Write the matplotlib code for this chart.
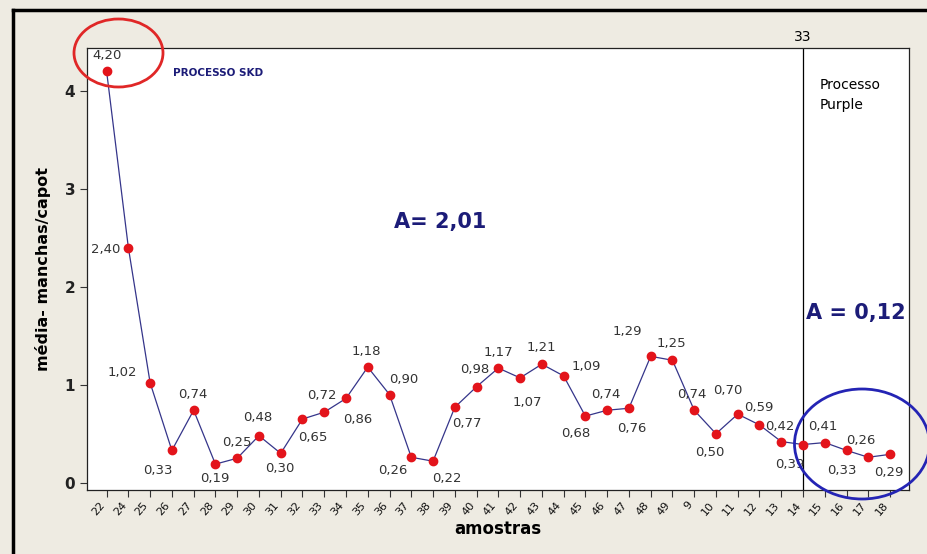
import matplotlib
matplotlib.use("Agg")
import matplotlib.pyplot as plt
from matplotlib.patches import Ellipse
from matplotlib.lines import Line2D

# sample identifiers (x axis) and mean stains per hood
amostras = ["22", "24", "25", "26", "27", "28", "29", "30", "31", "32", "33", "34",
            "35", "36", "37", "38", "39", "40", "41", "42", "43", "44", "45", "46",
            "47", "48", "49", "9", "10", "11", "12", "13", "14", "15", "16", "17", "18"]
media = [4.20, 2.40, 1.02, 0.33, 0.74, 0.19, 0.25, 0.48, 0.30, 0.65, 0.72, 0.86,
         1.18, 0.90, 0.26, 0.22, 0.77, 0.98, 1.17, 1.07, 1.21, 1.09, 0.68, 0.74,
         0.76, 1.29, 1.25, 0.74, 0.50, 0.70, 0.59, 0.42, 0.39, 0.41, 0.33, 0.26, 0.29]
ref_line = 33          # start of the Purple process
amp_skd = "A= 2,01"
amp_purple = "A = 0,12"

# label offsets in pixels (dx, dy) from each marker
label_offsets = [(0, 16), (-23, -2), (-28, 10), (-14, -20), (-1, 16), (-1, -14),
                 (0, 16), (-1, 18), (-1, -15), (10, -18), (-2, 17), (12, -21),
                 (-1, 16), (14, 15), (-18, -13), (14, -17), (12, -16), (-2, 17),
                 (0, 16), (7, -25), (0, 17), (23, 9), (-10, -17), (-1, 16),
                 (3, -20), (-23, 25), (-1, 17), (-2, 16), (-6, -19), (-10, 24),
                 (-1, 17), (-1, 15), (-13, -20), (-2, 16), (-5, -20), (-7, 17),
                 (-1, -18)]

W, H, DPI = 927, 554, 100
bg = "#eeebe2"
navy = "#1c1c78"

fig = plt.figure(figsize=(W / DPI, H / DPI), dpi=DPI, facecolor=bg)
ax = fig.add_axes([87 / W, 64 / H, (909 - 87) / W, (490 - 48) / H])
ax.set_facecolor("white")

x = list(range(1, len(media) + 1))
ax.plot(x, media, color="#35358a", lw=0.9, zorder=2)
ax.plot(x, media, ls="none", marker="o", ms=6, mfc="#e3141b", mec="#e3141b", zorder=3)

for xi, v, (dx, dy) in zip(x, media, label_offsets):
    ax.annotate(f"{v:.2f}".replace(".", ","), (xi, v), xytext=(dx, dy),
                textcoords="offset pixels", ha="center", va="center",
                fontsize=9.5, color="#333333", zorder=4)

ax.set_xlim(0.1, 37.87)
ax.set_ylim(-0.074, 4.436)

# reference line marking the process change
ax.axvline(ref_line, color="black", lw=0.9, zorder=1)
ax.text(ref_line, 1.01, str(ref_line), transform=ax.get_xaxis_transform(),
        ha="center", va="bottom", fontsize=10, color="black")

ax.set_xticks(x)
ax.set_xticklabels(amostras, rotation=50, ha="right", fontsize=8, color="#111111")
ax.set_yticks([0, 1, 2, 3, 4])
ax.set_yticklabels(["0", "1", "2", "3", "4"], fontsize=11, fontweight="bold", color="#222222")
ax.tick_params(axis="both", direction="out", length=5, width=0.8, color="#333333")
ax.tick_params(axis="x", pad=2)
for s in ax.spines.values():
    s.set_color("#222222")
    s.set_linewidth(0.9)

ax.set_xlabel("amostras", fontsize=12, fontweight="bold", labelpad=2)
ax.set_ylabel("média- manchas/capot", fontsize=11.5, fontweight="bold", labelpad=10)

# annotations
fig.text(173 / W, 1 - 73 / H, "PROCESSO SKD", fontsize=7.5, fontweight="bold",
         color=navy, ha="left", va="center")
fig.text(440 / W, 1 - 222 / H, amp_skd, fontsize=15, fontweight="bold",
         color=navy, ha="center", va="center")
fig.text(856 / W, 1 - 313 / H, amp_purple, fontsize=15, fontweight="bold",
         color=navy, ha="center", va="center")
fig.text(820 / W, 1 - 95 / H, "Processo\nPurple", fontsize=10, color="black",
         ha="left", va="center", linespacing=1.5)

fig.patches.append(Ellipse((118.5 / W, 1 - 53 / H), 89 / W, 68 / H,
                           transform=fig.transFigure, fill=False,
                           edgecolor="#e02727", lw=2))
fig.patches.append(Ellipse((862 / W, 1 - 444 / H), 135 / W, 110 / H,
                           transform=fig.transFigure, fill=False,
                           edgecolor="#2424b4", lw=2))

# outer frame
fig.lines.append(Line2D([13 / W, 13 / W], [0, 1 - 10 / H], transform=fig.transFigure,
                        color="black", lw=2.5))
fig.lines.append(Line2D([13 / W, 1], [1 - 10 / H, 1 - 10 / H], transform=fig.transFigure,
                        color="black", lw=2.5))

fig.savefig("out.png", dpi=DPI, facecolor=bg)
